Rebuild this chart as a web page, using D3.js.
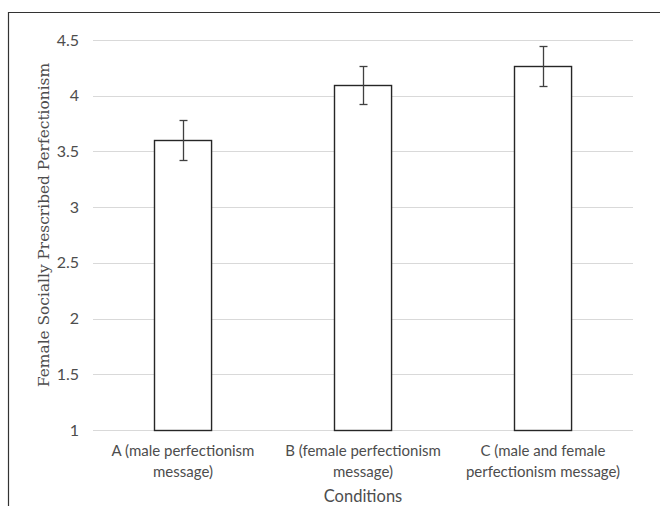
<!DOCTYPE html>
<html><head><meta charset="utf-8">
<script src="https://cdn.jsdelivr.net/npm/d3@7"></script>
<style>body{margin:0;background:#fff}svg{display:block}</style>
</head><body>
<svg id="c" width="660" height="506"></svg>
<script>
const categories = [["A (male perfectionism", "message)"], ["B (female perfectionism", "message)"], ["C (male and female", "perfectionism message)"]];
const categoryKeys = ["A", "B", "C"];
const means = [3.6, 4.1, 4.265];
const errors = [0.18, 0.17, 0.18];
const yTicks = [1, 1.5, 2, 2.5, 3, 3.5, 4, 4.5];
const yTickLabels = ["1", "1.5", "2", "2.5", "3", "3.5", "4", "4.5"];
const yTitle = "Female Socially Prescribed Perfectionism";
const xTitle = "Conditions";

const svg = d3.select("#c");
const M = {l: 93, r: 633, t: 40, b: 430};
const x = d3.scaleBand().domain(categoryKeys).range([M.l, M.r]).paddingInner(0.683).paddingOuter(0.3415);
const y = d3.scaleLinear().domain([1, 4.5]).range([M.b, M.t]);
const sans = "Lato, 'Open Sans', sans-serif";
const textCol = "#4d4d4d";

// frame
svg.append("path").attr("d", "M8.5,506 L8.5,12.5 L660,12.5").attr("fill","none").attr("stroke","#333").attr("stroke-width",1.2);

// grid
svg.append("g").selectAll("line").data(yTicks).join("line")
  .attr("x1", M.l).attr("x2", M.r)
  .attr("y1", d => Math.round(y(d)) + 0.5).attr("y2", d => Math.round(y(d)) + 0.5)
  .attr("stroke", "#d9d9d9").attr("stroke-width", 1);

// y tick labels
svg.append("g").selectAll("text").data(yTicks).join("text")
  .attr("x", 79).attr("y", d => y(d) + 5.5)
  .attr("text-anchor", "end").attr("font-family", sans).attr("font-size", 16).attr("fill", textCol)
  .text((d, i) => yTickLabels[i]);

// bars
svg.append("g").selectAll("rect").data(means).join("rect")
  .attr("x", (d, i) => Math.round(x(categoryKeys[i])) + 0.5)
  .attr("y", d => Math.round(y(d)) + 0.5)
  .attr("width", x.bandwidth())
  .attr("height", d => M.b - Math.round(y(d)))
  .attr("fill", "#fff").attr("stroke", "#262626").attr("stroke-width", 1.4);

// error bars
const eg = svg.append("g").attr("stroke", "#404040").attr("stroke-width", 1.3);
means.forEach((m, i) => {
  const cx = Math.round(x(categoryKeys[i]) + x.bandwidth() / 2) + 0.5;
  const yt = Math.round(y(m + errors[i])) + 0.5, yb = Math.round(y(m - errors[i])) + 0.5;
  eg.append("line").attr("x1", cx).attr("x2", cx).attr("y1", yt).attr("y2", yb);
  eg.append("line").attr("x1", cx - 4).attr("x2", cx + 4).attr("y1", yt).attr("y2", yt);
  eg.append("line").attr("x1", cx - 4).attr("x2", cx + 4).attr("y1", yb).attr("y2", yb);
});

// x category labels
const xl = svg.append("g").attr("font-family", sans).attr("font-size", 15).attr("fill", textCol).attr("text-anchor", "middle");
categories.forEach((lines, i) => {
  const cx = x(categoryKeys[i]) + x.bandwidth() / 2;
  lines.forEach((t, j) => xl.append("text").attr("x", cx).attr("y", 456 + j * 21).text(t));
});

// axis titles
svg.append("text").attr("x", 363).attr("y", 502).attr("text-anchor", "middle")
  .attr("font-family", sans).attr("font-size", 16.5).attr("fill", textCol).text(xTitle);
svg.append("text").attr("transform", "translate(49,225) rotate(-90)").attr("text-anchor", "middle")
  .attr("font-family", "'DejaVu Serif', serif").attr("font-size", 15.4).attr("fill", textCol).text(yTitle);
</script>
</body></html>
